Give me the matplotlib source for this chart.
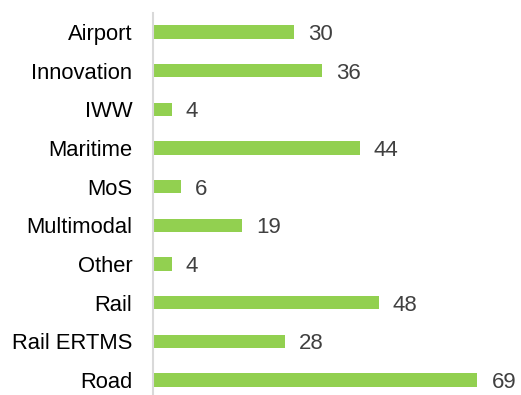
import matplotlib.pyplot as plt

categories = ["Airport", "Innovation", "IWW", "Maritime", "MoS",
              "Multimodal", "Other", "Rail", "Rail ERTMS", "Road"]
counts = [30, 36, 4, 44, 6, 19, 4, 48, 28, 69]

plt.rcParams['font.family'] = ['Liberation Sans', 'DejaVu Sans']

fig = plt.figure(figsize=(5.21, 3.95), dpi=100)
ax = fig.add_axes([0.2937, -0.011, 0.7063, 0.979])

pos = range(len(categories))
ax.barh(pos, counts, height=0.34, color='#92D050')
for p, v in zip(pos, counts):
    ax.text(v + 3.0, p, str(v), va='center_baseline', ha='left', fontsize=16, color='#404040')

ax.set_xlim(0, 78.3)
ax.set_ylim(len(categories) - 0.5, -0.5)
ax.set_yticks(list(pos))
ax.set_yticklabels(categories, fontsize=15.8, color='#000000')
ax.tick_params(axis='y', length=0, pad=15)
ax.set_xticks([])
for s in ['top', 'right', 'bottom']:
    ax.spines[s].set_visible(False)
ax.spines['left'].set_color('#d9d9d9')
ax.spines['left'].set_linewidth(1.5)

fig.savefig('out.png', dpi=100)
